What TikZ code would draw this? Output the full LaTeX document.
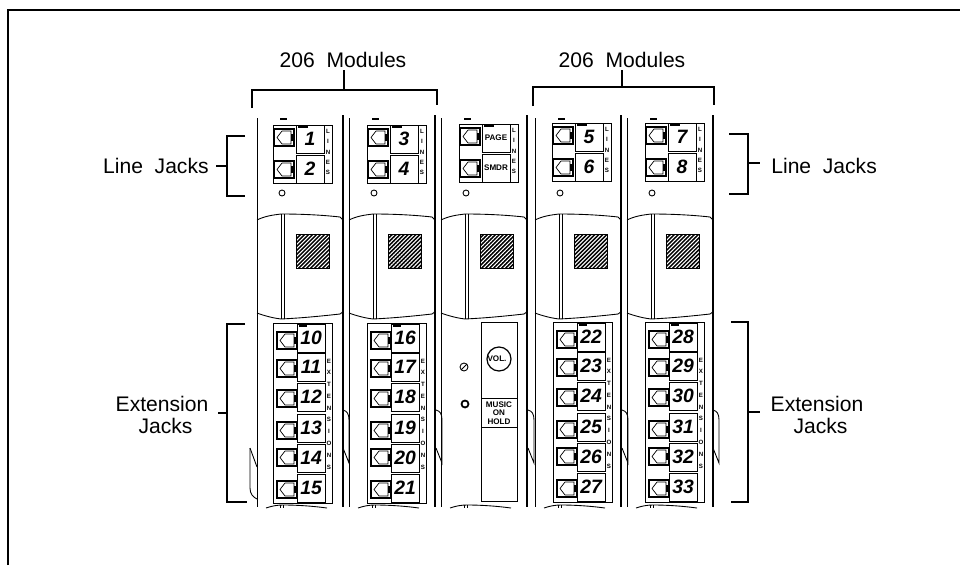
\documentclass[tikz,border=0pt]{standalone}
\usepackage{fontspec}
\usepackage{tikz}
\usetikzlibrary{patterns.meta}
\setmainfont{Liberation Sans}

\newcommand{\jack}[2]{
\draw [black, line width=0.6pt] (#1,#2) rectangle ++(20,-17);
\draw [black, line width=0.4pt] (#1+3,#2-8.5) -- (#1+8,#2-2) -- (#1+17,#2-2) -- (#1+17,#2-15) -- (#1+8,#2-15) -- cycle;
\fill [black] (#1+17,#2-5) rectangle (#1+20,#2-12);
}
\newcommand{\numbox}[4]{
\draw [black, line width=0.5pt] (#1,#2) rectangle ++(28,-28);
\node (box#3) [#4] at (#1+14,#2-14) {#3};
}
\newcommand{\linepanel}[5]{
\draw [black, line width=0.5pt] (#1,#2) rectangle ++(59,-58);
\jack{#1+1}{#2-4}
\jack{#1+1}{#2-36}
\numbox{#1+23}{#2}{#3}{#5}
\numbox{#1+23}{#2-30}{#4}{#5}
\fill [black] (#1+25,#2) rectangle ++(10,-3);
\node [lettertext, text width=4pt, align=center] at (#1+55,#2-27) {L\\I\\N\\E\\S};
}
\newcommand{\extpanel}[8]{
\draw [black, line width=0.5pt] (#1,#2) rectangle ++(59,-180);
\jack{#1+4}{#2-9}
\jack{#1+4}{#2-37}
\jack{#1+4}{#2-67}
\jack{#1+4}{#2-99}
\jack{#1+4}{#2-126}
\jack{#1+4}{#2-158}
\numbox{#1+24}{#2-1}{#3}{numtext}
\numbox{#1+24}{#2-30}{#4}{numtext}
\numbox{#1+24}{#2-60}{#5}{numtext}
\numbox{#1+24}{#2-91}{#6}{numtext}
\numbox{#1+24}{#2-121}{#7}{numtext}
\numbox{#1+24}{#2-151}{#8}{numtext}
\fill [black] (#1+26,#2-1) rectangle ++(8,-3);
\node [lettertext, text width=4pt, align=center, font=\bfseries\fontsize{3.5}{6.7}\selectfont] at (#1+56,#2-91) {E\\X\\T\\E\\N\\S\\I\\O\\N\\S};
}
\newcommand{\module}[1]{
\draw [black, line width=0.4pt] (#1,-118) -- (#1,-507);
\draw [black, line width=0.6pt] (#1+86,-115) -- (#1+86,-507);
\draw [black, line width=0.8pt] (#1+23,-119) -- (#1+30,-119);
\draw [black, line width=0.5pt] (#1+25,-193) circle (3);
\draw [black, line width=0.5pt] (#1,-220) .. controls (#1+8,-216) and (#1+16,-215) .. (#1+24,-214) .. controls (#1+45,-214) and (#1+65,-215) .. (#1+83,-217) .. controls (#1+85,-218) and (#1+86,-220) .. (#1+86,-222);
\draw [black, line width=0.5pt] (#1,-313) .. controls (#1+8,-316) and (#1+16,-318) .. (#1+24,-319) .. controls (#1+45,-318) and (#1+65,-316) .. (#1+83,-314) .. controls (#1+85,-313) and (#1+86,-312) .. (#1+86,-310);
\draw [black, line width=0.5pt] (#1+24,-214) -- (#1+24,-319);
\draw [black, line width=0.5pt] (#1+27,-214) -- (#1+27,-319);
\fill [black, postaction={pattern={Lines[angle=45,distance=1.6pt,line width=0.6pt]}, pattern color=white}] (#1+39,-234) rectangle ++(33,-34);
\draw [black, line width=0.5pt] (#1+39,-234) rectangle ++(33,-34);
\draw [black, line width=0.5pt] (#1+9,-508) .. controls (#1+15,-506) and (#1+20,-505) .. (#1+26,-505) .. controls (#1+40,-505) and (#1+55,-506) .. (#1+70,-508);
\draw [black, line width=0.5pt] (#1+23,-505) -- (#1+23,-508);
\draw [black, line width=0.5pt] (#1+26,-505) -- (#1+26,-508);
}
\newcommand{\latch}[1]{
\draw [black, line width=0.5pt] (#1,-410) .. controls (#1+4,-411) and (#1+6,-414) .. (#1+6,-420) -- (#1+6,-463) -- (#1,-448);
}

\begin{document}
\begin{tikzpicture}[x=0.2mm,y=0.2mm]
\tikzstyle{every node}+=[inner sep=0pt]
\tikzstyle{labeltext}=[font=\fontsize{12}{12.6}\selectfont, align=center]
\tikzstyle{numtext}=[font=\bfseries\itshape\fontsize{11}{11}\selectfont]
\tikzstyle{pagetext}=[font=\bfseries\fontsize{4.6}{5}\selectfont]
\tikzstyle{lettertext}=[font=\bfseries\fontsize{3.5}{5.8}\selectfont]
\useasboundingbox (0,0) rectangle (960,-565);
% frame
\draw [black, line width=1.3pt] (8,-565) -- (8,-10) -- (960,-10);
% modules
\module{257}
\module{349}
\module{441}
\module{535}
\module{627}
\draw [black, line width=0.9pt] (435,-115) -- (435,-507);
\latch{343}
\latch{436}
\latch{528}
\latch{622}
\latch{713}
\draw [black, line width=0.5pt] (250,-448) -- (250,-488) .. controls (250,-494) and (253,-497) .. (257,-499);
\draw [black, line width=0.5pt] (250,-448) -- (257,-467);
% jack panels
\linepanel{273}{-125}{1}{2}{numtext}
\linepanel{367}{-125}{3}{4}{numtext}
\linepanel{459}{-124}{PAGE}{SMDR}{pagetext}
\linepanel{552}{-123}{5}{6}{numtext}
\linepanel{645}{-123}{7}{8}{numtext}
\extpanel{273}{-323}{10}{11}{12}{13}{14}{15}
\extpanel{367}{-323}{16}{17}{18}{19}{20}{21}
\extpanel{553}{-322}{22}{23}{24}{25}{26}{27}
\extpanel{645}{-322}{28}{29}{30}{31}{32}{33}
% music panel
\draw [black, line width=0.5pt] (481,-322) rectangle (517,-501);
\draw [black, line width=0.5pt] (481,-398) -- (517,-398);
\draw [black, line width=0.5pt] (481,-427) -- (517,-427);
\draw [black, line width=0.7pt] (499,-359) circle (12);
\node (vol) [pagetext] at (497,-359) {VOL.};
\node (music) [pagetext, align=center] at (499,-413) {MUSIC\\ON\\HOLD};
\draw [black, line width=0.5pt] (464,-367) circle (4);
\draw [black, line width=0.5pt] (461,-370) -- (467,-364);
\draw [black, line width=1pt] (465,-404) circle (3.5);
% brackets
\node (modl) [labeltext] at (343,-60) {206\ \ Modules};
\node (modr) [labeltext] at (622,-60) {206\ \ Modules};
\node (linel) [labeltext, anchor=east] at (209,-166) {Line\ \ Jacks};
\node (liner) [labeltext, anchor=west] at (771,-166) {Line\ \ Jacks};
\node (extl) [labeltext] at (162,-415) {Extension\\\hspace*{4pt}Jacks};
\node (extr) [labeltext] at (817,-415) {Extension\\\hspace*{4pt}Jacks};
\coordinate (modlb) at (344,-90);
\coordinate (modrb) at (622,-87);
\coordinate (linelb) at (227,-166);
\coordinate (linerb) at (748,-163);
\coordinate (extlb) at (227,-413);
\coordinate (extrb) at (748,-412);
\draw [black, line width=0.7pt] (252,-108) -- (252,-90) -- (437,-90) -- (437,-105);
\draw [black, line width=0.7pt] (533,-106) -- (533,-87) -- (714,-87) -- (714,-105);
\draw [black, line width=0.7pt] (245,-136) -- (227,-136) -- (227,-196) -- (245,-196);
\draw [black, line width=0.7pt] (245,-324) -- (227,-324) -- (227,-502) -- (247,-502);
\draw [black, line width=0.7pt] (729,-134) -- (748,-134) -- (748,-194) -- (729,-194);
\draw [black, line width=0.7pt] (731,-322) -- (748,-322) -- (748,-502) -- (731,-502);
\draw [black, line width=0.7pt, shorten >=1pt] (modlb) -- (modlb |- modl.south);
\draw [black, line width=0.7pt, shorten >=1pt] (modrb) -- (modr.south);
\draw [black, line width=0.7pt, shorten >=4pt] (linelb) -- (linel.east);
\draw [black, line width=0.7pt, shorten >=6.5pt] (linerb) -- (linerb -| liner.west);
\draw [black, line width=0.7pt, shorten >=5.5pt] (extlb) -- (extlb -| extl.east);
\draw [black, line width=0.7pt, shorten >=6pt] (extrb) -- (extrb -| extr.west);
\end{tikzpicture}
\end{document}
